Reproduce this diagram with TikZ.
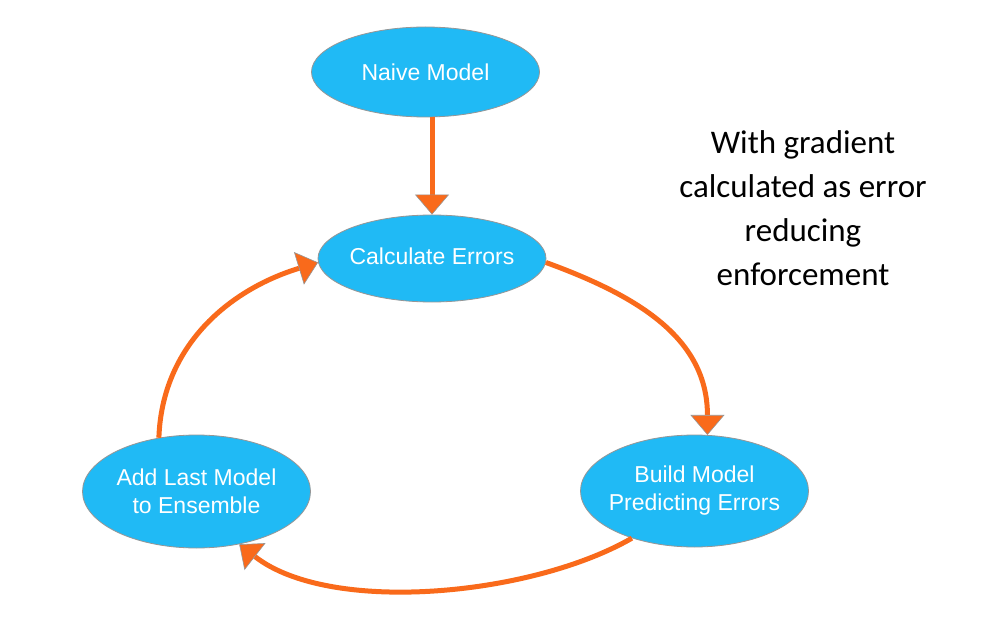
\documentclass[tikz,border=0pt]{standalone}
\usepackage{fontspec}
\setmainfont{Liberation Sans}
\newfontfamily\calibri{Carlito}
\usetikzlibrary{shapes.geometric,arrows.meta}
\definecolor{nodeblue}{RGB}{32,186,245}
\definecolor{rimgray}{RGB}{150,150,150}
\definecolor{flow}{RGB}{249,106,27}
\begin{document}
\begin{tikzpicture}[x=1pt,y=1pt,
  stage/.style={ellipse, draw=rimgray, line width=0.8pt, fill=nodeblue,
    minimum width=228pt, minimum height=112pt, inner xsep=-40pt, inner ysep=0pt,
    align=center, text=white, font=\fontsize{23}{28}\selectfont},
  flowlink/.style={draw=flow, line width=5pt,
    -{Triangle[width=34pt,length=20pt,color=rimgray,fill=flow,line width=0.6pt]}},
  notetext/.style={font=\calibri\fontsize{33}{44}\selectfont, align=center, text=black}]
\useasboundingbox (0,0) rectangle (981,-620);
\fill[white] (0,0) rectangle (981,-620);

\node[stage, minimum height=90pt] (naive) at (425.5,-72) {Naive Model};
\node[stage, minimum height=87pt] (calc) at (432,-258.5) {\raisebox{4pt}{Calculate Errors}};
\node[stage] (build) at (694.5,-491) {Build Model\\Predicting Errors};
\node[stage, minimum height=113pt] (add) at (196.5,-491.5) {Add Last Model\\to Ensemble};

\node[notetext] (note) at (803,-208) {With gradient\\calculated as error\\reducing\\enforcement};

\draw[flowlink] (naive.south -| calc.north) -- (calc.north);
\draw[flowlink] (calc.-2) to[out=-20,in=90,looseness=1.05] (build.77);
\draw[flowlink] (build.-143) to[out=-150,in=-38,looseness=0.75] (add.-51);
\draw[flowlink] (add.125) to[out=88,in=-163] (calc.182);
\end{tikzpicture}
\end{document}
